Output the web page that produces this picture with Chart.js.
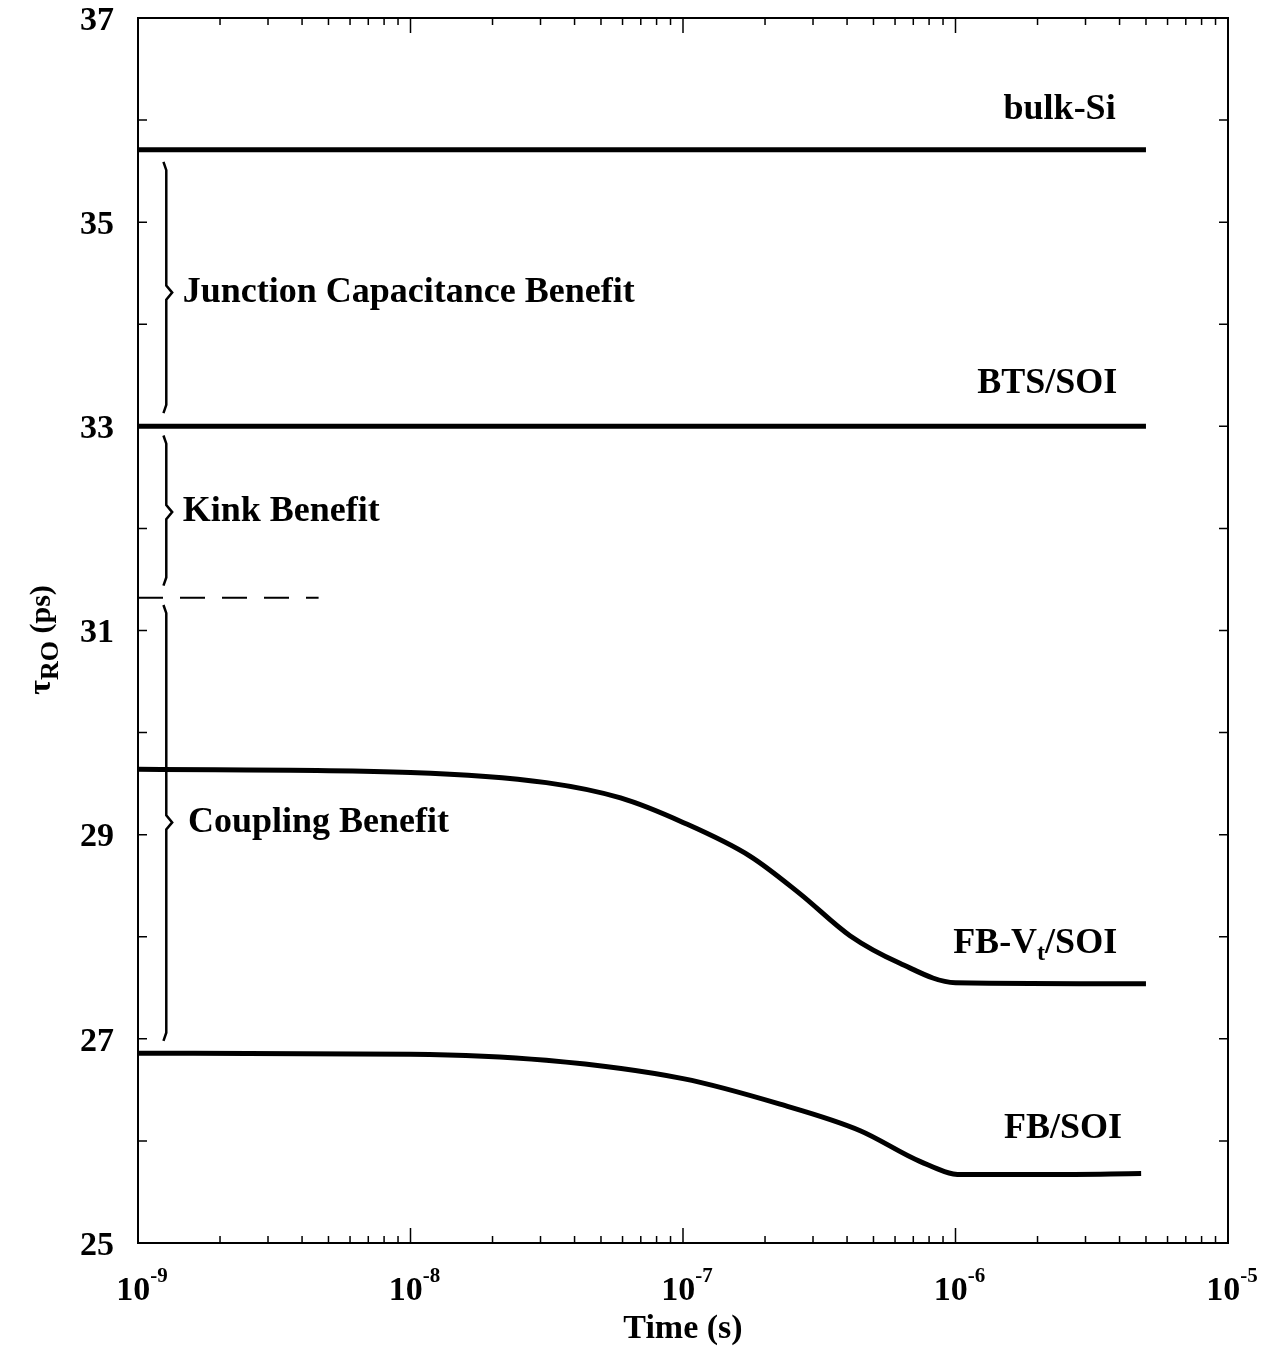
<!DOCTYPE html>
<html>
<head>
<meta charset="utf-8">
<script src="https://cdn.jsdelivr.net/npm/chart.js@4/dist/chart.umd.min.js"></script>
<style>
  html, body { margin: 0; padding: 0; background: #fff; }
</style>
</head>
<body>
<canvas id="myChart" width="1284" height="1348"></canvas>
<script>
// flat reference curves
const flatTime = [1e-9, 5e-6];
const bulkSi = [35.71, 35.71];
const btsSoi = [33.0, 33.0];

// FB-Vt/SOI
const fbVtTime = [1e-9, 1e-8, 3.15e-8, 5.9e-8, 1e-7, 1.76e-7, 2.69e-7, 4.1e-7, 6.25e-7, 1e-6, 5e-6];
const fbVtSoi = [29.64, 29.61, 29.51, 29.36, 29.12, 28.79, 28.42, 28.01, 27.74, 27.55, 27.54];

// FB/SOI
const fbTime = [1e-9, 1e-8, 3.15e-8, 1e-7, 2.27e-7, 4.47e-7, 7.4e-7, 1.05e-6, 2.2e-6, 4.8e-6];
const fbSoi = [26.86, 26.85, 26.79, 26.61, 26.36, 26.10, 25.80, 25.67, 25.67, 25.68];

// dashed kink level
const kinkTime = [1e-9, 4.6e-9];
const kinkLevel = [31.32, 31.32];

// braces: top, middle, bottom
const junctionBrace = [35.59, 34.31, 33.13];
const kinkBrace = [32.91, 32.16, 31.44];
const couplingBrace = [31.25, 29.12, 26.98];

const yTicks = [25, 27, 29, 31, 33, 35, 37];
const xTickExp = [-9, -8, -7, -6, -5];

const serif = '"Liberation Serif", "Times New Roman", serif';

function pts(xs, ys) {
    return xs.map((x, i) => ({ x: x, y: ys[i] }));
}

function bracePts(b) {
    const endX = 1.24e-9, stemX = 1.27e-9, tipX = 1.335e-9;
    return [
        { x: endX, y: b[0] },
        { x: stemX, y: b[0] - 0.08 },
        { x: stemX, y: b[1] + 0.07 },
        { x: tipX, y: b[1] },
        { x: stemX, y: b[1] - 0.07 },
        { x: stemX, y: b[2] + 0.08 },
        { x: endX, y: b[2] },
    ];
}

function curve(data, width) {
    return {
        data: data,
        borderColor: '#000',
        borderWidth: width,
        pointRadius: 0,
        fill: false,
        cubicInterpolationMode: 'monotone',
    };
}

const extras = {
    id: 'extras',
    afterDraw(chart) {
        const ctx = chart.ctx;
        const a = chart.chartArea;
        const xs = chart.scales.x;
        const ys = chart.scales.y;
        ctx.save();
        ctx.strokeStyle = '#000';
        ctx.fillStyle = '#000';

        // frame top / right
        ctx.lineWidth = 2;
        ctx.beginPath();
        ctx.moveTo(a.left, a.top);
        ctx.lineTo(a.right, a.top);
        ctx.lineTo(a.right, a.bottom);
        ctx.stroke();

        // y ticks
        ctx.lineWidth = 1.5;
        for (let v = 25; v <= 37; v++) {
            const py = ys.getPixelForValue(v);
            ctx.beginPath();
            ctx.moveTo(a.left, py);
            ctx.lineTo(a.left + 9, py);
            ctx.moveTo(a.right, py);
            ctx.lineTo(a.right - 9, py);
            ctx.stroke();
        }

        // y tick labels
        ctx.font = 'bold 34px ' + serif;
        ctx.textAlign = 'right';
        ctx.textBaseline = 'middle';
        yTicks.forEach(v => {
            ctx.fillText(String(v), 114, ys.getPixelForValue(v) + 3);
        });

        // x ticks (log, major + minor)
        for (let e = -9; e < -5; e++) {
            for (let m = 1; m < 10; m++) {
                const px = xs.getPixelForValue(m * Math.pow(10, e));
                const len = m === 1 ? 15 : 7;
                ctx.beginPath();
                ctx.moveTo(px, a.bottom);
                ctx.lineTo(px, a.bottom - len);
                ctx.moveTo(px, a.top);
                ctx.lineTo(px, a.top + len);
                ctx.stroke();
            }
        }

        // x tick labels 10^n
        ctx.textBaseline = 'alphabetic';
        xTickExp.forEach(e => {
            const px = xs.getPixelForValue(Math.pow(10, e));
            ctx.font = 'bold 34px ' + serif;
            const wBase = ctx.measureText('10').width;
            ctx.font = 'bold 21px ' + serif;
            const sup = '-' + Math.abs(e);
            const wSup = ctx.measureText(sup).width;
            const x0 = px - (wBase + wSup) / 2 + 4;
            ctx.textAlign = 'left';
            ctx.font = 'bold 34px ' + serif;
            ctx.fillText('10', x0, 1300);
            ctx.font = 'bold 21px ' + serif;
            ctx.fillText(sup, x0 + wBase, 1282);
        });

        // x title
        ctx.font = 'bold 34px ' + serif;
        ctx.textAlign = 'center';
        ctx.fillText('Time (s)', (a.left + a.right) / 2, 1338);

        // y title  tau_RO (ps)
        ctx.save();
        ctx.translate(52, 640);
        ctx.rotate(-Math.PI / 2);
        ctx.textAlign = 'left';
        ctx.font = 'bold 32px ' + serif;
        const wTau = ctx.measureText('\u03c4').width;
        ctx.font = 'bold 26px ' + serif;
        const wRO = ctx.measureText('RO').width;
        ctx.font = 'bold 30px ' + serif;
        const wPs = ctx.measureText(' (ps)').width;
        let tx = -(wTau + wRO + wPs) / 2;
        ctx.font = 'bold 32px ' + serif;
        ctx.fillText('\u03c4', tx, -2);
        tx += wTau;
        ctx.font = 'bold 26px ' + serif;
        ctx.fillText('RO', tx, 6);
        tx += wRO;
        ctx.font = 'bold 30px ' + serif;
        ctx.fillText(' (ps)', tx, -2);
        ctx.restore();

        // curve labels
        ctx.font = 'bold 36px ' + serif;
        ctx.textBaseline = 'middle';
        ctx.textAlign = 'center';
        ctx.fillText('bulk-Si', xs.getPixelForValue(2.41e-6), ys.getPixelForValue(36.10));
        ctx.fillText('BTS/SOI', xs.getPixelForValue(2.17e-6), ys.getPixelForValue(33.42));
        ctx.fillText('FB/SOI', xs.getPixelForValue(2.48e-6), ys.getPixelForValue(26.12));

        // FB-Vt/SOI with subscript t
        const vx = xs.getPixelForValue(1.96e-6);
        const vy = ys.getPixelForValue(27.93);
        ctx.textAlign = 'left';
        const w1 = ctx.measureText('FB-V').width;
        const w3 = ctx.measureText('/SOI').width;
        ctx.font = 'bold 24px ' + serif;
        const w2 = ctx.measureText('t').width;
        let lx = vx - (w1 + w2 + w3) / 2;
        ctx.font = 'bold 36px ' + serif;
        ctx.fillText('FB-V', lx, vy);
        ctx.font = 'bold 24px ' + serif;
        ctx.fillText('t', lx + w1, vy + 10);
        ctx.font = 'bold 36px ' + serif;
        ctx.fillText('/SOI', lx + w1 + w2, vy);

        // brace labels
        ctx.fillText('Junction Capacitance Benefit', xs.getPixelForValue(1.46e-9), ys.getPixelForValue(junctionBrace[1]));
        ctx.fillText('Kink Benefit', xs.getPixelForValue(1.46e-9), ys.getPixelForValue(kinkBrace[1]));
        ctx.fillText('Coupling Benefit', xs.getPixelForValue(1.526e-9), ys.getPixelForValue(couplingBrace[1]));

        ctx.restore();
    }
};

const Mychart = document.getElementById('myChart');

new Chart(Mychart, {
    type: 'line',
    data: {
        datasets: [
            curve(pts(flatTime, bulkSi), 5),
            curve(pts(flatTime, btsSoi), 5),
            curve(pts(fbVtTime, fbVtSoi), 5),
            curve(pts(fbTime, fbSoi), 5),
            Object.assign(curve(pts(kinkTime, kinkLevel), 2), { borderDash: [25, 17] }),
            Object.assign(curve(bracePts(junctionBrace), 2.5), { cubicInterpolationMode: 'default', tension: 0 }),
            Object.assign(curve(bracePts(kinkBrace), 2.5), { cubicInterpolationMode: 'default', tension: 0 }),
            Object.assign(curve(bracePts(couplingBrace), 2.5), { cubicInterpolationMode: 'default', tension: 0 }),
        ],
    },
    options: {
        responsive: false,
        animation: false,
        layout: {
            padding: { top: 18, right: 56, left: 0, bottom: 0 },
        },
        plugins: {
            legend: { display: false },
            tooltip: { enabled: false },
        },
        scales: {
            x: {
                type: 'logarithmic',
                min: 1e-9,
                max: 1e-5,
                ticks: { display: false },
                grid: { display: false },
                border: { display: true, color: '#000', width: 2 },
                afterFit: s => { s.height = 105; },
            },
            y: {
                type: 'linear',
                min: 25,
                max: 37,
                ticks: { display: false },
                grid: { display: false },
                border: { display: true, color: '#000', width: 2 },
                afterFit: s => { s.width = 138; },
            },
        },
    },
    plugins: [extras],
});
</script>
</body>
</html>
